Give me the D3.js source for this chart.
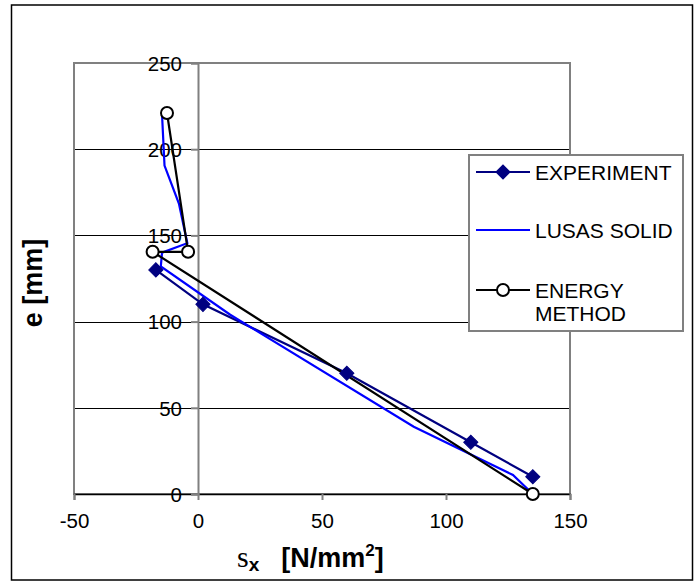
<!DOCTYPE html>
<html>
<head>
<meta charset="utf-8">
<script src="https://cdn.jsdelivr.net/npm/d3@7"></script>
<style>
  html, body { margin: 0; padding: 0; background: #fff; }
  svg { display: block; }
  text { font-family: "Liberation Sans", Arial, sans-serif; }
</style>
</head>
<body>
<svg id="chart" width="698" height="585"></svg>
<script>
// Stress sigma_x against eccentricity e
const xTicks = [-50, 0, 50, 100, 150];
const yTicks = [0, 50, 100, 150, 200, 250];

const experimentX = [-17, 2, 60, 110, 135];
const experimentY = [130, 110, 70, 30, 10];

const lusasX = [-14.5, -13.5, -7.7, -4.3, -14.5, -15, 13, 87, 127, 135];
const lusasY = [220, 190.5, 168.5, 145.5, 140, 132, 104, 39, 11, 0];

const energyX = [-12.5, -4, -18.3, 135];
const energyY = [221, 140.5, 140.5, 0];

const seriesNames = ["EXPERIMENT", "LUSAS SOLID", "ENERGY"];

const svg = d3.select("#chart");
const x = d3.scaleLinear().domain([-50, 150]).range([74, 570]);
const y = d3.scaleLinear().domain([0, 250]).range([494, 63]);
const plain = d => String(d);

// outer chart frame
svg.append("rect")
  .attr("x", 11.5).attr("y", 5).attr("width", 681).attr("height", 575)
  .attr("fill", "none").attr("stroke", "#000").attr("stroke-width", 1.5);

// horizontal gridlines
svg.append("g").selectAll("line").data(yTicks.filter(d => d > 0)).join("line")
  .attr("x1", x(-50)).attr("x2", x(150))
  .attr("y1", d => Math.round(y(d)) + 0.5).attr("y2", d => Math.round(y(d)) + 0.5)
  .attr("stroke", "#000").attr("stroke-width", 1);

// plot area frame
svg.append("rect")
  .attr("x", x(-50)).attr("y", y(250))
  .attr("width", x(150) - x(-50)).attr("height", y(0) - y(250))
  .attr("fill", "none").attr("stroke", "#808080").attr("stroke-width", 2);

// x axis along the bottom
const xAxis = d3.axisBottom(x).tickValues(xTicks).tickFormat(plain).tickSize(6).tickPadding(13);
const gx = svg.append("g").attr("transform", `translate(0,${y(0)})`).call(xAxis);
gx.select(".domain").attr("stroke", "#000").attr("stroke-width", 1.5);
gx.selectAll(".tick line").attr("stroke", "#808080").attr("stroke-width", 2);
gx.selectAll(".tick text").attr("fill", "#000")
  .style("font-size", "20.5px").style("font-family", "'Liberation Sans', Arial, sans-serif");

// y axis through x = 0
const yAxis = d3.axisLeft(y).tickValues(yTicks).tickFormat(plain).tickSize(7).tickPadding(9);
const gy = svg.append("g").attr("transform", `translate(${x(0)},0)`).call(yAxis);
gy.select(".domain").attr("stroke", "#808080").attr("stroke-width", 2);
gy.selectAll(".tick line").attr("stroke", "#808080").attr("stroke-width", 2);
gy.selectAll(".tick text").attr("fill", "#000").attr("dy", "0.36em")
  .style("font-size", "20.5px").style("font-family", "'Liberation Sans', Arial, sans-serif");

// series lines
const line = d3.line().x(d => x(d[0])).y(d => y(d[1]));
const expPts = experimentX.map((v, i) => [v, experimentY[i]]);
const lusPts = lusasX.map((v, i) => [v, lusasY[i]]);
const enePts = energyX.map((v, i) => [v, energyY[i]]);

svg.append("path").datum(expPts).attr("d", line)
  .attr("fill", "none").attr("stroke", "#000080").attr("stroke-width", 2.2);
svg.append("path").datum(lusPts).attr("d", line)
  .attr("fill", "none").attr("stroke", "#0000FF").attr("stroke-width", 2.2);
svg.append("path").datum(enePts).attr("d", line)
  .attr("fill", "none").attr("stroke", "#000").attr("stroke-width", 2.2);

// markers
const diamond = d3.symbol().type(d3.symbolSquare).size(100);
svg.append("g").selectAll("path").data(expPts).join("path")
  .attr("d", diamond)
  .attr("transform", d => `translate(${x(d[0])},${y(d[1])}) rotate(45)`)
  .attr("fill", "#000080").attr("stroke", "#000080").attr("stroke-width", 1);
svg.append("g").selectAll("circle").data(enePts).join("circle")
  .attr("cx", d => x(d[0])).attr("cy", d => y(d[1])).attr("r", 6)
  .attr("fill", "#fff").attr("stroke", "#000").attr("stroke-width", 2);

// axis titles
svg.append("text")
  .attr("transform", "translate(42,283) rotate(-90)")
  .attr("text-anchor", "middle")
  .style("font-size", "27px").style("font-weight", "bold")
  .text("e [mm]");

const xTitle = svg.append("text").attr("x", 237).attr("y", 567)
  .style("font-size", "27px").style("font-weight", "bold");
xTitle.append("tspan").text("s")
  .style("font-family", "'Liberation Serif', 'Times New Roman', serif").style("font-weight", "normal")
  .style("font-size", "30px");
xTitle.append("tspan").text("x").attr("dy", 4).style("font-size", "19px");
xTitle.append("tspan").text("[N/mm").attr("dy", -4).attr("dx", 22);
xTitle.append("tspan").text("2").attr("dy", -11).style("font-size", "17px");
xTitle.append("tspan").text("]").attr("dy", 11);

// legend
const lg = svg.append("g");
lg.append("rect").attr("x", 469).attr("y", 155).attr("width", 214).attr("height", 176)
  .attr("fill", "#fff").attr("stroke", "#808080").attr("stroke-width", 2);

const legendRows = [
  { label: [seriesNames[0]], color: "#000080", marker: "diamond", cy: 172 },
  { label: [seriesNames[1]], color: "#0000FF", marker: null, cy: 230 },
  { label: [seriesNames[2], "METHOD"], color: "#000", marker: "circle", cy: 290 }
];
legendRows.forEach(r => {
  lg.append("line").attr("x1", 476).attr("x2", 530).attr("y1", r.cy).attr("y2", r.cy)
    .attr("stroke", r.color).attr("stroke-width", 2.2);
  if (r.marker === "diamond") {
    lg.append("path").attr("d", diamond)
      .attr("transform", `translate(503,${r.cy}) rotate(45)`)
      .attr("fill", r.color).attr("stroke", r.color);
  } else if (r.marker === "circle") {
    lg.append("circle").attr("cx", 503).attr("cy", r.cy).attr("r", 6)
      .attr("fill", "#fff").attr("stroke", r.color).attr("stroke-width", 2);
  }
  r.label.forEach((t, i) => {
    lg.append("text").attr("x", 535).attr("y", r.cy + 7.5 + i * 23.3)
      .style("font-size", "21px").text(t);
  });
});
</script>
</body>
</html>
